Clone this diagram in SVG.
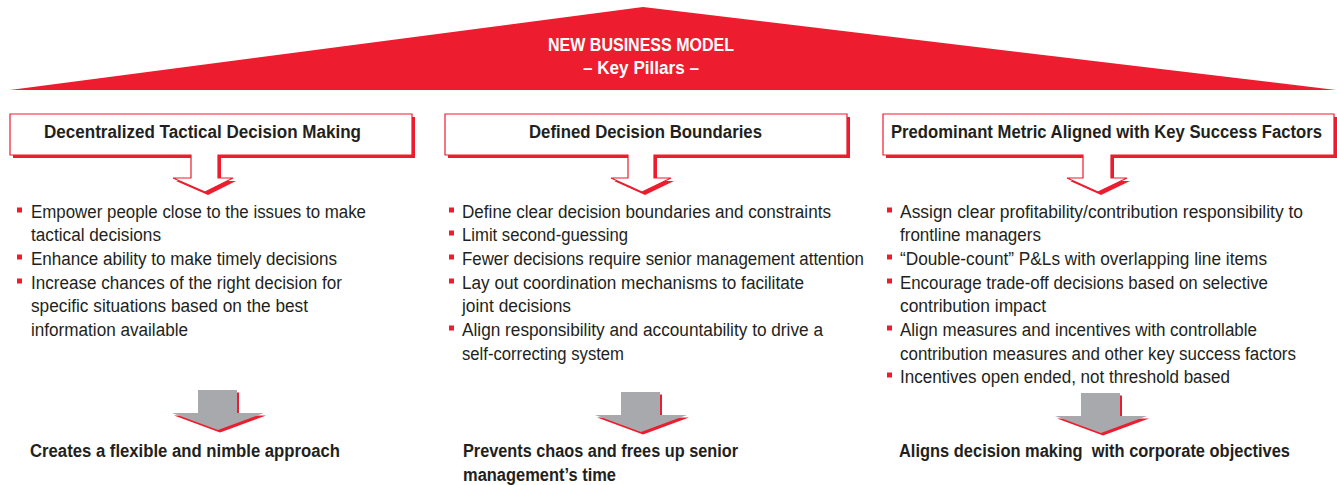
<svg xmlns="http://www.w3.org/2000/svg" width="1337" height="485" viewBox="0 0 1337 485">
<style>
.red{fill:#ED1C2E}
.shadow{fill:#ED1C2E}
.box{fill:#FFFFFF;stroke:#ED1C2E;stroke-width:1.2}
.t{font-family:"Liberation Sans Narrow","Liberation Sans",Arial,sans-serif;fill:#231F20}
.title{font-family:"Liberation Sans Narrow","Liberation Sans",Arial,sans-serif;font-weight:bold;font-size:17.5px;fill:#FFFFFF}
.hdr{font-weight:bold;font-size:17.5px}
.bul{font-size:18px}
.res{font-weight:bold;font-size:18px}
.sq{fill:#ED1C2E}
.gray{fill:#A7A9AC}
</style>
<defs>
<g id="garrow">
<path class="red" transform="translate(2,2.5)" d="M-20,0 H19 V23 H46 L0,40 L-46,23 H-20 Z"/>
<path class="gray" d="M-20,0 H19 V23 H46 L0,40 L-46,23 H-20 Z"/>
</g>
<rect id="bullet" width="5" height="5" class="sq"/>
</defs>

<g id="roof">
<polygon class="red" points="10,90 643,7 1336,90"/>
<text class="title" x="548" y="51" textLength="186" lengthAdjust="spacingAndGlyphs">NEW BUSINESS MODEL</text>
<text class="title" x="583" y="74" textLength="116" lengthAdjust="spacingAndGlyphs">– Key Pillars –</text>
</g>

<g id="pillar1">
<path class="shadow" transform="translate(3,3)" d="M10,114 H412 V155 H218 V178 H233 L205,192 L173,178 H191 V155 H10 Z"/>
<path class="box" d="M10,114 H412 V155 H218 V178 H233 L205,192 L173,178 H191 V155 H10 Z"/>
<text class="t hdr" x="44" y="138" textLength="317" lengthAdjust="spacingAndGlyphs">Decentralized Tactical Decision Making</text>
</g>

<g id="pillar2">
<path class="shadow" transform="translate(3,3)" d="M445,114 H847 V155 H654 V178 H671 L642,192 L611,178 H628 V155 H445 Z"/>
<path class="box" d="M445,114 H847 V155 H654 V178 H671 L642,192 L611,178 H628 V155 H445 Z"/>
<text class="t hdr" x="529" y="138" textLength="233" lengthAdjust="spacingAndGlyphs">Defined Decision Boundaries</text>
</g>

<g id="pillar3">
<path class="shadow" transform="translate(3,3)" d="M883,114 H1334 V155 H1111 V178 H1127 L1098,192 L1067,178 H1083 V155 H883 Z"/>
<path class="box" d="M883,114 H1334 V155 H1111 V178 H1127 L1098,192 L1067,178 H1083 V155 H883 Z"/>
<text class="t hdr" x="891" y="138" textLength="431" lengthAdjust="spacingAndGlyphs">Predominant Metric Aligned with Key Success Factors</text>
</g>

<g id="bullets1">
<use href="#bullet" x="17" y="207.5"/>
<use href="#bullet" x="17" y="254.5"/>
<use href="#bullet" x="17" y="278.5"/>
<text class="t bul" x="31" y="218" textLength="335" lengthAdjust="spacingAndGlyphs">Empower people close to the issues to make</text>
<text class="t bul" x="31" y="241" textLength="130" lengthAdjust="spacingAndGlyphs">tactical decisions</text>
<text class="t bul" x="31" y="265" textLength="306" lengthAdjust="spacingAndGlyphs">Enhance ability to make timely decisions</text>
<text class="t bul" x="31" y="289" textLength="311" lengthAdjust="spacingAndGlyphs">Increase chances of the right decision for</text>
<text class="t bul" x="31" y="312" textLength="277" lengthAdjust="spacingAndGlyphs">specific situations based on the best</text>
<text class="t bul" x="31" y="336" textLength="157" lengthAdjust="spacingAndGlyphs">information available</text>
</g>

<g id="bullets2">
<use href="#bullet" x="449" y="207.5"/>
<use href="#bullet" x="449" y="230.5"/>
<use href="#bullet" x="449" y="254.5"/>
<use href="#bullet" x="449" y="278.5"/>
<use href="#bullet" x="449" y="325.5"/>
<text class="t bul" x="462" y="218" textLength="369" lengthAdjust="spacingAndGlyphs">Define clear decision boundaries and constraints</text>
<text class="t bul" x="462" y="241" textLength="166" lengthAdjust="spacingAndGlyphs">Limit second-guessing</text>
<text class="t bul" x="462" y="265" textLength="402" lengthAdjust="spacingAndGlyphs">Fewer decisions require senior management attention</text>
<text class="t bul" x="462" y="289" textLength="342" lengthAdjust="spacingAndGlyphs">Lay out coordination mechanisms to facilitate</text>
<text class="t bul" x="462" y="312" textLength="109" lengthAdjust="spacingAndGlyphs">joint decisions</text>
<text class="t bul" x="462" y="336" textLength="361" lengthAdjust="spacingAndGlyphs">Align responsibility and accountability to drive a</text>
<text class="t bul" x="462" y="360" textLength="162" lengthAdjust="spacingAndGlyphs">self-correcting system</text>
</g>

<g id="bullets3">
<use href="#bullet" x="887" y="207.5"/>
<use href="#bullet" x="887" y="254.5"/>
<use href="#bullet" x="887" y="278.5"/>
<use href="#bullet" x="887" y="325.5"/>
<use href="#bullet" x="887" y="372.5"/>
<text class="t bul" x="900" y="218" textLength="403" lengthAdjust="spacingAndGlyphs">Assign clear profitability/contribution responsibility to</text>
<text class="t bul" x="900" y="241" textLength="141" lengthAdjust="spacingAndGlyphs">frontline managers</text>
<text class="t bul" x="900" y="265" textLength="367" lengthAdjust="spacingAndGlyphs">“Double-count” P&amp;Ls with overlapping line items</text>
<text class="t bul" x="900" y="289" textLength="368" lengthAdjust="spacingAndGlyphs">Encourage trade-off decisions based on selective</text>
<text class="t bul" x="900" y="312" textLength="146" lengthAdjust="spacingAndGlyphs">contribution impact</text>
<text class="t bul" x="900" y="336" textLength="357" lengthAdjust="spacingAndGlyphs">Align measures and incentives with controllable</text>
<text class="t bul" x="900" y="360" textLength="396" lengthAdjust="spacingAndGlyphs">contribution measures and other key success factors</text>
<text class="t bul" x="900" y="383" textLength="330" lengthAdjust="spacingAndGlyphs">Incentives open ended, not threshold based</text>
</g>

<g id="connectors">
<use href="#garrow" x="218" y="390"/>
<use href="#garrow" x="641" y="392"/>
<use href="#garrow" x="1101" y="393"/>
</g>

<g id="result1">
<text class="t res" x="30" y="457" textLength="310" lengthAdjust="spacingAndGlyphs">Creates a flexible and nimble approach</text>
</g>
<g id="result2">
<text class="t res" x="463" y="457" textLength="275" lengthAdjust="spacingAndGlyphs">Prevents chaos and frees up senior</text>
<text class="t res" x="463" y="481" textLength="153" lengthAdjust="spacingAndGlyphs">management’s time</text>
</g>
<g id="result3">
<text class="t res" x="899" y="457" textLength="391" lengthAdjust="spacingAndGlyphs" style="white-space:pre">Aligns decision making  with corporate objectives</text>
</g>
</svg>
